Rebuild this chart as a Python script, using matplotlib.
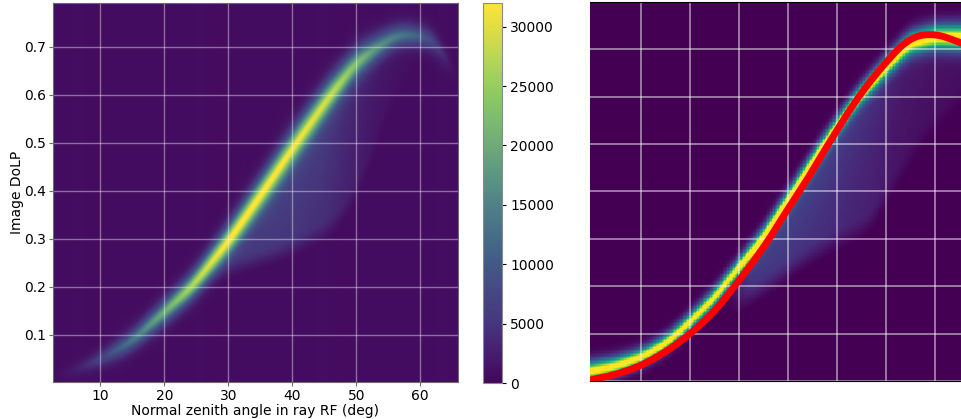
import matplotlib

matplotlib.use("Agg")
import matplotlib.pyplot as plt
import numpy as np
from matplotlib.colors import LinearSegmentedColormap

# left panel: ridge of the 2D histogram
ridge_angle = [2.6, 6.3, 10.0, 14.6, 20.0, 24.3, 30.2, 35.4, 40.5, 45.9, 50.0, 54.1, 56.8, 60.2, 62.6, 63.7, 65.9]
ridge_dolp = [0.010, 0.028, 0.049, 0.084, 0.147, 0.200, 0.300, 0.400, 0.500, 0.600, 0.667, 0.706, 0.725, 0.722, 0.708, 0.683, 0.640]
ridge_peak = [0, 1500, 6000, 12500, 20000, 26000, 30000, 28500, 26500, 25000, 20500, 15000, 13000, 10000, 6000, 2000, 0]
ridge_sigma = [0.010, 0.010, 0.012, 0.014, 0.016, 0.017, 0.020, 0.022, 0.023, 0.022, 0.020, 0.017, 0.015, 0.015, 0.015, 0.015, 0.015]

# left panel: fainter shoulder below the ridge
shoulder_angle = [22, 26, 30, 35.4, 40.7, 45.9, 48.5, 51, 53, 56, 60]
shoulder_edge = [0.170, 0.205, 0.236, 0.257, 0.284, 0.320, 0.360, 0.424, 0.500, 0.600, 0.700]
shoulder_level = [0, 2500, 5000, 7000, 7500, 6000, 4200, 2500, 1500, 700, 0]

# vertical banding of the background, counts per bin
background_bands = [760, 820, 880, 800, 740, 810, 870, 830, 760, 800, 860, 810]

# colours, bottom to top, with their counts
bar_counts = [0, 2500, 5000, 7500, 10000, 12500, 15000, 17500, 20000, 22500, 25000, 27500, 30000, 32000]
bar_colors = ["#44055a", "#461e6e", "#46377d", "#464682", "#415a87", "#466e87", "#508287", "#5a9682",
              "#6eaa78", "#7dbe6e", "#96cd5f", "#b9d755", "#e1de41", "#fce437"]

# right panel: same kind of histogram normalised to 1, plus the red fit
right_angle = [-0.4, 4.7, 10.0, 15.0, 19.8, 25.0, 29.8, 34.3, 40.0, 47.6, 54.3, 60.0, 64.9, 70.0, 75.5]
right_dolp = [0.019, 0.030, 0.049, 0.078, 0.122, 0.175, 0.238, 0.293, 0.382, 0.502, 0.598, 0.662, 0.713, 0.726, 0.725]
right_sigma = [0.013, 0.012, 0.011, 0.011, 0.0115, 0.012, 0.012, 0.013, 0.013, 0.013, 0.013, 0.014, 0.015, 0.016, 0.017]

right_shoulder_angle = [28, 32.2, 38.4, 42.4, 49.2, 56.7, 62, 68, 75.5]
right_shoulder_edge = [0.150, 0.175, 0.219, 0.249, 0.291, 0.329, 0.420, 0.520, 0.600]
right_shoulder_level = [0, 0.20, 0.24, 0.24, 0.22, 0.17, 0.10, 0.07, 0.05]

fit_angle = [-0.4, 4.7, 10.0, 15.0, 19.8, 25.0, 29.8, 35.9, 40.0, 42.4, 48.2, 54.3, 60.0, 64.9, 70.0, 75.5]
fit_dolp = [0.002, 0.013, 0.032, 0.061, 0.097, 0.146, 0.209, 0.294, 0.365, 0.399, 0.500, 0.600, 0.674, 0.726, 0.734, 0.713]

LEFT_XLIM = (2.6, 65.9)
LEFT_YLIM = (0.002, 0.7915)
RIGHT_XLIM = (-0.4, 75.5)
RIGHT_YLIM = (0.0, 0.8)
GRID_COLOR = "#ffffff"
EDGE_COLOR = "#6b6b6b"


def profile(grid, xp, fp, window=3.0):
    """Resample a read-off profile on grid and take the corners off it."""
    dense = np.interp(grid, xp, fp)
    half = max(int(window / 2 / (grid[1] - grid[0])), 1)
    # odd reflection keeps the slope at the ends of the range
    padded = np.pad(dense, half, mode="reflect", reflect_type="odd")
    kernel = np.ones(2 * half + 1) / (2 * half + 1)
    return np.convolve(padded, kernel, mode="valid")


def build_grid(xs, ys, ridge, sigma, peak, shoulder, edge_soft):
    """Turn the ridge and shoulder profiles into one image array."""
    center = profile(xs, ridge[0], ridge[1])
    width = profile(xs, ridge[0], sigma)
    height = profile(xs, ridge[0], peak)
    edge = profile(xs, shoulder[0], shoulder[1])
    level = profile(xs, shoulder[0], shoulder[2])

    gy = ys[:, None]
    # a bit sharper than a gaussian, the core of the ridge is thin
    values = height * np.exp(-((np.abs(gy - center) / (1.41 * width)) ** 1.6))
    above_edge = np.clip((gy - edge) / edge_soft + 0.5, 0, 1)
    above_edge = above_edge * above_edge * (3 - 2 * above_edge)
    depth = np.clip(center - gy, 0, None)
    below_ridge = np.clip((center - gy) / 0.02 + 0.5, 0, 1)
    fade = 0.45 + 0.55 * np.exp(-depth / 0.12)
    return values + level * above_edge * below_ridge * fade


def px_axes(fig, left, top, right, bottom):
    """Add axes from pixel edges measured on the 962x419 picture."""
    return fig.add_axes([left / 962, 1 - bottom / 419, (right - left) / 962, (bottom - top) / 419])


bar_cmap = LinearSegmentedColormap.from_list(
    "faded_viridis", [(c / 32000, col) for c, col in zip(bar_counts, bar_colors)]
)

fig = plt.figure(figsize=(9.62, 4.19), dpi=100)

ax_left = px_axes(fig, 53, 3, 458, 382)
xs = np.linspace(*LEFT_XLIM, 320)
ys = np.linspace(*LEFT_YLIM, 320)
left_values = build_grid(
    xs, ys,
    (ridge_angle, ridge_dolp), ridge_sigma, ridge_peak,
    (shoulder_angle, shoulder_edge, shoulder_level),
    0.05,
)
# background bands repeat across the x range
band_index = (np.arange(xs.size) // 8) % len(background_bands)
left_values = left_values + np.array(background_bands)[band_index]
image = ax_left.imshow(
    left_values,
    origin="lower",
    extent=(*LEFT_XLIM, *LEFT_YLIM),
    aspect="auto",
    cmap=bar_cmap,
    vmin=0,
    vmax=32000,
    interpolation="bilinear",
)
ax_left.set_xlim(*LEFT_XLIM)
ax_left.set_ylim(*LEFT_YLIM)
ax_left.set_xticks([10, 20, 30, 40, 50, 60])
ax_left.set_yticks([0.1, 0.2, 0.3, 0.4, 0.5, 0.6, 0.7])
ax_left.grid(True, color=GRID_COLOR, alpha=0.4, linewidth=1)
ax_left.set_xlabel("Normal zenith angle in ray RF (deg)", fontsize=10, labelpad=1)
ax_left.set_ylabel("Image DoLP", fontsize=10)
ax_left.yaxis.set_label_coords((23.5 - 53) / 405, 0.5)
ax_left.tick_params(labelsize=10, length=3, pad=2, color=EDGE_COLOR)
for spine in ax_left.spines.values():
    spine.set_color(EDGE_COLOR)

ax_bar = px_axes(fig, 483, 3, 502, 383)
cbar = fig.colorbar(image, cax=ax_bar)
cbar.set_ticks([0, 5000, 10000, 15000, 20000, 25000, 30000])
cbar.ax.tick_params(labelsize=10, length=3, pad=3)
cbar.outline.set_edgecolor("#8a8a8a")

ax_right = px_axes(fig, 590, 2, 962, 381)
rx = np.linspace(*RIGHT_XLIM, 260)
ry = np.linspace(*RIGHT_YLIM, 270)
right_values = build_grid(
    rx, ry,
    (right_angle, right_dolp), right_sigma, [1.12] * len(right_angle),
    (right_shoulder_angle, right_shoulder_edge, right_shoulder_level),
    0.06,
)
ax_right.imshow(
    right_values,
    origin="lower",
    extent=(*RIGHT_XLIM, *RIGHT_YLIM),
    aspect="auto",
    cmap="viridis",
    vmin=0,
    vmax=1,
    interpolation="nearest",
)
fit_grid = np.linspace(*RIGHT_XLIM, 400)
ax_right.plot(fit_grid, profile(fit_grid, fit_angle, fit_dolp, window=5.0), color="#ff0000", linewidth=5)
ax_right.set_xlim(*RIGHT_XLIM)
ax_right.set_ylim(*RIGHT_YLIM)
ax_right.set_xticks([10, 20, 30, 40, 50, 60, 70])
ax_right.set_yticks([0.0, 0.1, 0.2, 0.3, 0.4, 0.5, 0.6, 0.7])
ax_right.tick_params(length=0, labelbottom=False, labelleft=False)
ax_right.grid(True, color=GRID_COLOR, alpha=0.5, linewidth=1.3)
ax_right.spines["left"].set_visible(False)
ax_right.spines["right"].set_visible(False)

fig.savefig("out.png", dpi=100)
plt.close(fig)
